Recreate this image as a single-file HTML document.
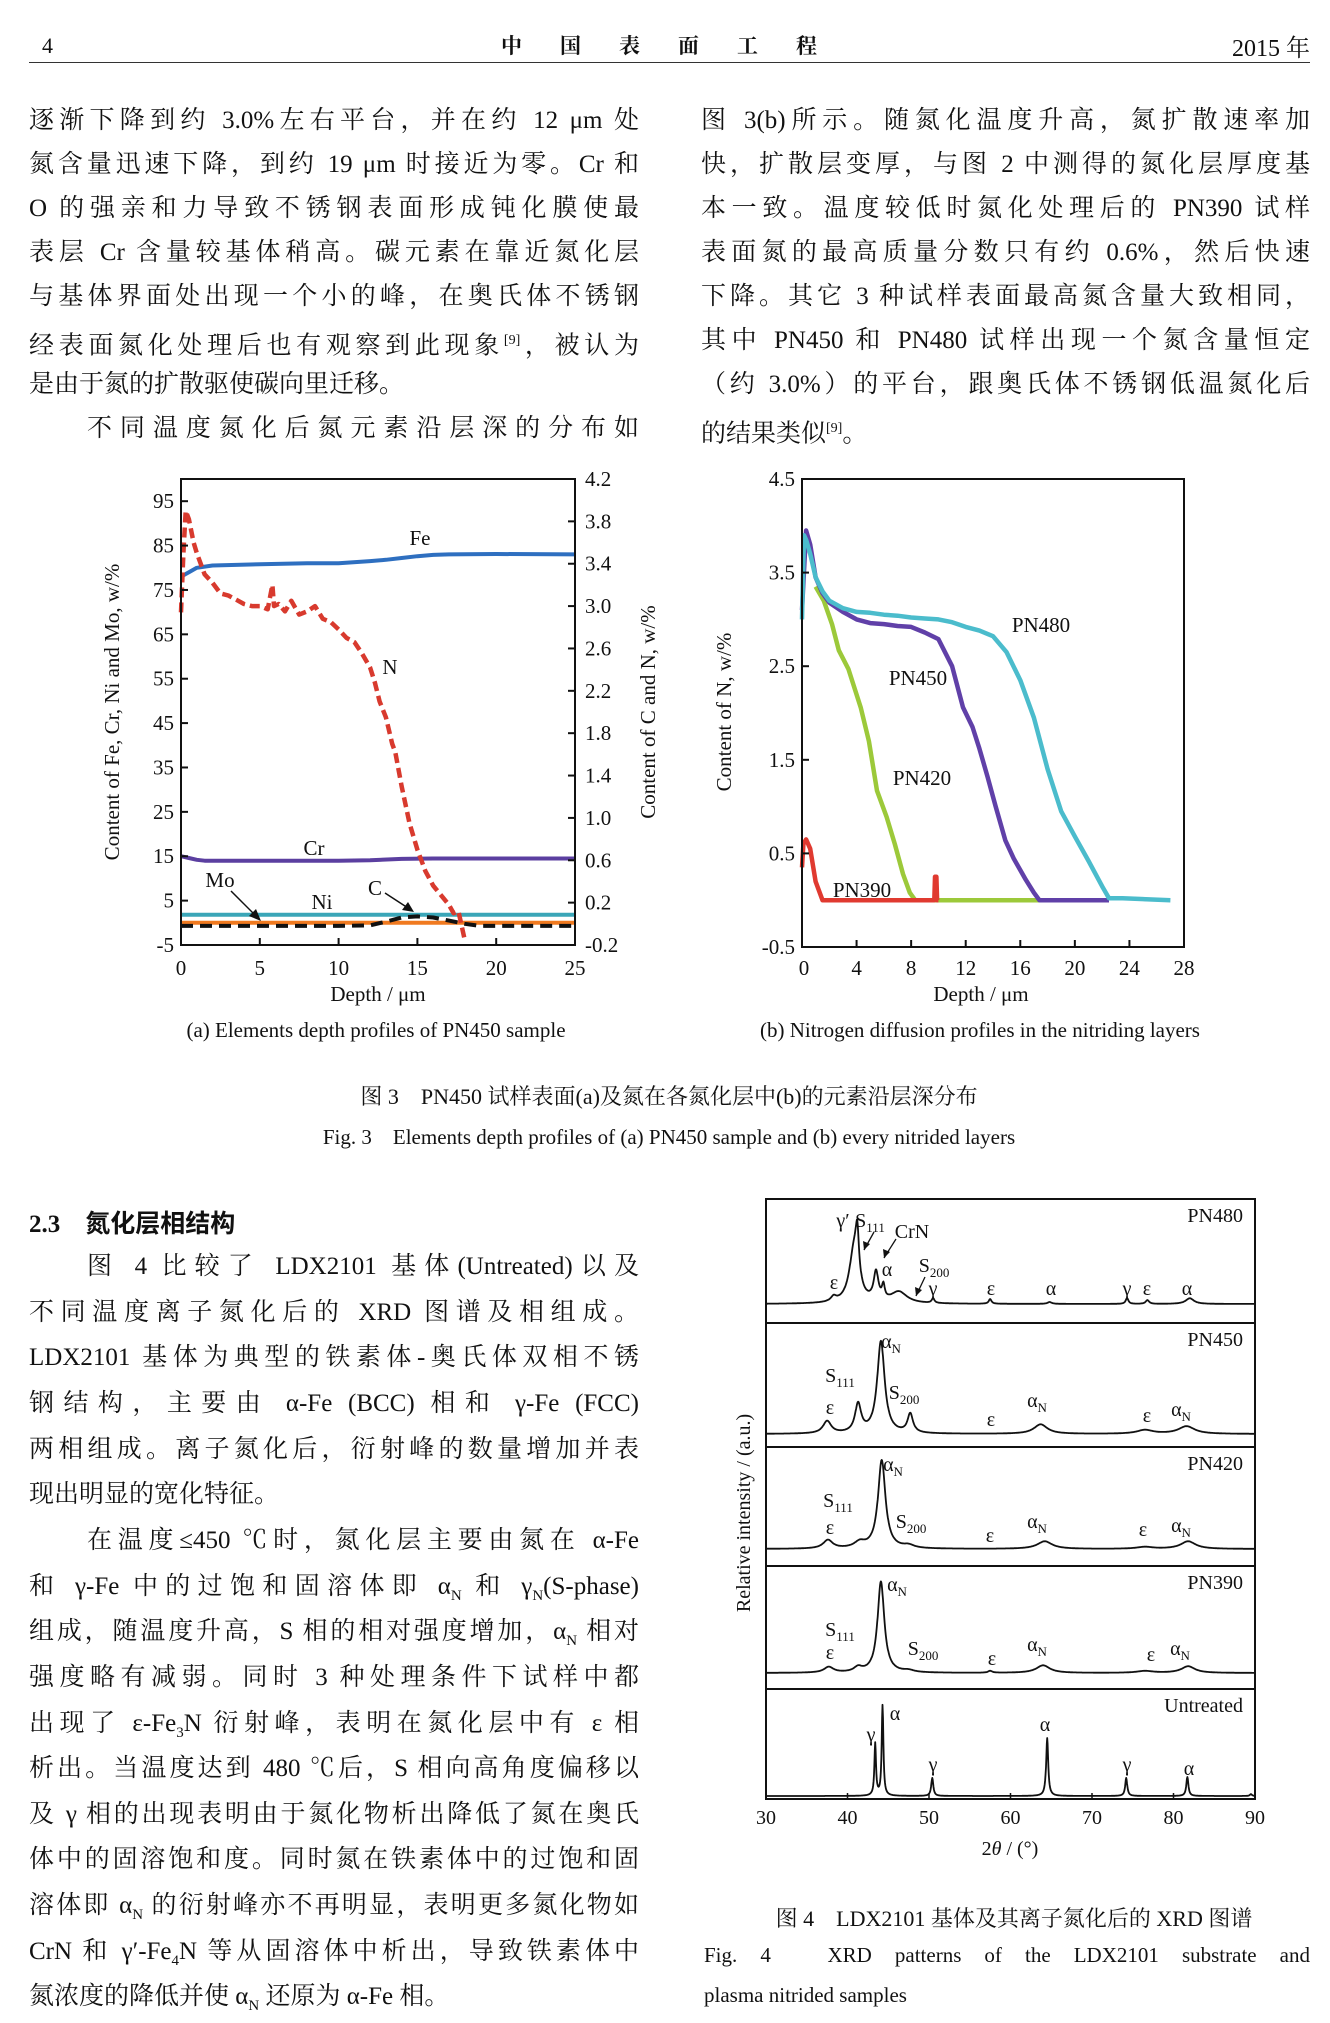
<!DOCTYPE html>
<html><head><meta charset="utf-8">
<style>
body{margin:0;background:#fff;}
#page{position:relative;width:1330px;height:2023px;overflow:hidden;background:#fff;font-family:"Liberation Serif","Noto Serif CJK SC",serif;color:#111;}
.ln{position:absolute;font-size:25px;line-height:44px;height:44px;white-space:nowrap;text-align:justify;text-align-last:justify;}
.ln.l{left:29px;width:610px;}
.ln.r{left:701px;width:609px;}
.ln.e{text-align-last:left;}
.cap{position:absolute;font-size:22px;white-space:nowrap;transform:translateX(-50%);}
sup{font-size:14px;}
sub{font-size:15px;}
svg text{font-family:"Liberation Serif","Noto Serif CJK SC",serif;}
</style></head>
<body>
<div id="page">
<div style="position:absolute;left:42px;top:33px;font-size:22px;">4</div>
<div style="position:absolute;left:678px;top:30px;transform:translateX(-50%);font-size:21px;font-weight:bold;letter-spacing:38px;font-family:'Noto Serif CJK SC',serif;">中国表面工程</div>
<div style="position:absolute;right:20px;top:28px;font-size:24px;">2015 年</div>
<div style="position:absolute;left:29px;top:62px;width:1281px;height:1px;background:#333;"></div>

<div class="ln l" style="top:99px">逐渐下降到约 3.0%左右平台，并在约 12 μm 处</div>
<div class="ln l" style="top:143px">氮含量迅速下降，到约 19 μm 时接近为零。Cr 和</div>
<div class="ln l" style="top:187px">O 的强亲和力导致不锈钢表面形成钝化膜使最</div>
<div class="ln l" style="top:231px">表层 Cr 含量较基体稍高。碳元素在靠近氮化层</div>
<div class="ln l" style="top:275px">与基体界面处出现一个小的峰，在奥氏体不锈钢</div>
<div class="ln l" style="top:319px">经表面氮化处理后也有观察到此现象<sup>[9]</sup>，被认为</div>
<div class="ln l e" style="top:363px">是由于氮的扩散驱使碳向里迁移。</div>
<div class="ln l" style="top:407px;left:87px;width:552px">不同温度氮化后氮元素沿层深的分布如</div>

<div class="ln r" style="top:99px">图 3(b)所示。随氮化温度升高，氮扩散速率加</div>
<div class="ln r" style="top:143px">快，扩散层变厚，与图 2 中测得的氮化层厚度基</div>
<div class="ln r" style="top:187px">本一致。温度较低时氮化处理后的 PN390 试样</div>
<div class="ln r" style="top:231px">表面氮的最高质量分数只有约 0.6%，然后快速</div>
<div class="ln r" style="top:275px">下降。其它 3 种试样表面最高氮含量大致相同，</div>
<div class="ln r" style="top:319px">其中 PN450 和 PN480 试样出现一个氮含量恒定</div>
<div class="ln r" style="top:363px">（约 3.0%）的平台，跟奥氏体不锈钢低温氮化后</div>
<div class="ln r e" style="top:407px">的结果类似<sup>[9]</sup>。</div>

<div class="cap" style="left:669px;top:1080px;font-size:22px;">图 3　PN450 试样表面(a)及氮在各氮化层中(b)的元素沿层深分布</div>
<div class="cap" style="left:669px;top:1121px;font-size:21px;">Fig. 3　Elements depth profiles of (a) PN450 sample and (b) every nitrided layers</div>

<div style="position:absolute;left:29px;top:1204px;font-size:25px;font-weight:bold;font-family:'Liberation Serif','Noto Sans CJK SC',sans-serif;">2.3　氮化层相结构</div>

<div class="ln l" style="top:1245px;left:87px;width:552px">图 4 比较了 LDX2101 基体(Untreated)以及</div>
<div class="ln l" style="top:1291px">不同温度离子氮化后的 XRD 图谱及相组成。</div>
<div class="ln l" style="top:1336px">LDX2101 基体为典型的铁素体-奥氏体双相不锈</div>
<div class="ln l" style="top:1382px">钢结构，主要由 α-Fe (BCC) 相和 γ-Fe (FCC)</div>
<div class="ln l" style="top:1428px">两相组成。离子氮化后，衍射峰的数量增加并表</div>
<div class="ln l e" style="top:1473px">现出明显的宽化特征。</div>
<div class="ln l" style="top:1519px;left:87px;width:552px">在温度≤450 ℃时，氮化层主要由氮在 α-Fe</div>
<div class="ln l" style="top:1565px">和 γ-Fe 中的过饱和固溶体即 α<sub>N</sub> 和 γ<sub>N</sub>(S-phase)</div>
<div class="ln l" style="top:1610px">组成，随温度升高，S 相的相对强度增加，α<sub>N</sub> 相对</div>
<div class="ln l" style="top:1656px">强度略有减弱。同时 3 种处理条件下试样中都</div>
<div class="ln l" style="top:1702px">出现了 ε-Fe<sub>3</sub>N 衍射峰，表明在氮化层中有 ε 相</div>
<div class="ln l" style="top:1747px">析出。当温度达到 480 ℃后，S 相向高角度偏移以</div>
<div class="ln l" style="top:1793px">及 γ 相的出现表明由于氮化物析出降低了氮在奥氏</div>
<div class="ln l" style="top:1838px">体中的固溶饱和度。同时氮在铁素体中的过饱和固</div>
<div class="ln l" style="top:1884px">溶体即 α<sub>N</sub> 的衍射峰亦不再明显，表明更多氮化物如</div>
<div class="ln l" style="top:1930px">CrN 和 γ′-Fe<sub>4</sub>N 等从固溶体中析出，导致铁素体中</div>
<div class="ln l e" style="top:1975px">氮浓度的降低并使 α<sub>N</sub> 还原为 α-Fe 相。</div>

<div class="cap" style="left:1014px;top:1902px;font-size:22px;">图 4　LDX2101 基体及其离子氮化后的 XRD 图谱</div>
<div class="ln" style="left:704px;width:606px;top:1933px;font-size:21px;">Fig. 4　XRD patterns of the LDX2101 substrate and</div>
<div style="position:absolute;left:704px;top:1983px;font-size:21px;">plasma nitrided samples</div>

<svg id="charts" width="1330" height="2023" style="position:absolute;left:0;top:0;" xmlns="http://www.w3.org/2000/svg"></svg>
</div>
<script>
// ===== Chart (a) data =====
const aFeX=[0,0.5,1,2,5,8,10,12,13,14,15,16,17,20,25];
const aFeY=[78,79,80,80.5,80.8,81,81,81.5,81.8,82.2,82.6,82.9,83,83.1,83];
const aCrX=[0,0.5,1,1.5,5,10,12,14,16,25];
const aCrY=[15,14.6,14.2,14,14,14,14.1,14.4,14.5,14.5];
const aNiX=[0,25];const aNiY=[1.8,1.8];
const aMoX=[0,25];const aMoY=[0,0];
const aCX=[0,5,10,12,13,14,15,16,17,18,19,20,25];
const aCY=[-0.02,-0.02,-0.02,-0.015,0.02,0.06,0.07,0.06,0.03,0,-0.02,-0.02,-0.02];
const aNX=[0,0.15,0.3,0.5,0.8,1,1.5,2,2.5,3,3.5,4,4.5,5,5.5,5.8,5.9,6.2,6.6,7,7.5,8,8.5,9,9.5,10,10.5,11,11.5,12,12.3,12.6,13,13.4,13.6,14,14.5,15,15.5,16,16.5,17,17.3,17.6,18];
const aNY=[2.94,3.5,3.9,3.82,3.6,3.5,3.3,3.22,3.12,3.1,3.06,3.02,3.0,3.0,2.97,3.2,3.0,3.02,2.95,3.05,2.92,2.95,3.0,2.88,2.85,2.78,2.7,2.66,2.55,2.42,2.28,2.1,1.95,1.7,1.62,1.3,0.95,0.7,0.5,0.36,0.27,0.18,0.1,0.12,-0.15];
const aLeftTicks=[95,85,75,65,55,45,35,25,15,5,-5];
const aRightTicks=[4.2,3.8,3.4,3.0,2.6,2.2,1.8,1.4,1.0,0.6,0.2,-0.2];
const aXTicks=[0,5,10,15,20,25];
// ===== Chart (b) data =====
const b480X=[0,0.15,0.3,0.6,1,1.5,2,3,4,5,6,7,8,9,10,11,12,13,14,15,16,17,18,19,20,21,22,22.5,23.5,27];
const b480Y=[3.0,3.9,3.85,3.7,3.45,3.3,3.2,3.12,3.08,3.07,3.05,3.04,3.02,3.01,3.0,2.97,2.92,2.88,2.82,2.65,2.35,1.95,1.4,0.95,0.68,0.42,0.15,0.02,0.02,0];
const b450X=[0,0.3,0.6,1,1.5,2,3,4,5,6,7,8,9,10,11,11.8,12.5,13,13.6,14.2,14.9,15.5,16.4,17,17.4,22.5];
const b450Y=[3.1,3.95,3.8,3.45,3.28,3.18,3.08,3.0,2.96,2.95,2.93,2.92,2.86,2.79,2.5,2.06,1.85,1.62,1.32,1.0,0.64,0.45,0.22,0.08,0.0,0];
const b420X=[1,1.6,2.2,2.7,3.4,4.3,4.9,5.5,6.2,6.8,7.4,7.9,8.3,17.4];
const b420Y=[3.35,3.2,2.95,2.67,2.47,2.06,1.7,1.17,0.89,0.6,0.28,0.08,0.0,0];
const b390X=[0,0.1,0.3,0.6,1,1.5,9.7,9.75,9.85,9.9,10];
const b390Y=[0.35,0.6,0.65,0.55,0.2,0,0,0.25,0.25,0,0];
const bYTicks=[4.5,3.5,2.5,1.5,0.5,-0.5];
const bXTicks=[0,4,8,12,16,20,24,28];
// ===== XRD data (peak centers, heights in a.u., widths in deg) =====
const xrdNames=["PN480","PN450","PN420","PN390","Untreated"];
const p480C=[38.3,40.8,41.2,43.5,44.4,46.3,50.5,57.5,64.8,74.3,76.8,82];
const p480H=[5,55,45,30,14,12,5,5,2,6,4,6];
const p480W=[0.4,0.7,0.25,0.35,0.2,1.2,0.2,0.2,0.3,0.2,0.25,0.6];
const p450C=[37.5,41.3,44.1,47.7,63.7,76.5,81.6];
const p450H=[13,30,97,20,10,4,8];
const p450W=[0.6,0.45,0.55,0.4,1.0,1.2,1.2];
const p420C=[37.6,41.5,44.2,47.5,64.2,76.5,81.8];
const p420H=[9,6,93,3,8,2,8];
const p420W=[0.7,0.8,0.55,0.8,1.1,1.2,1.1];
const p390C=[37.7,41.3,44.1,47.5,57.5,64,76.5,81.8];
const p390H=[6,5,96,2,2,8,2,7];
const p390W=[0.7,0.6,0.5,0.8,0.3,1.0,1.2,1.0];
const pUC=[43.4,44.3,50.4,64.5,74.2,81.7,89.5];
const pUH=[55,95,19,61,19,20,2];
const pUW=[0.12,0.12,0.15,0.15,0.15,0.15,0.15];
const xrdTicks=[30,40,50,60,70,80,90];

const NS="http://www.w3.org/2000/svg";
const svg=document.getElementById('charts');
function mk(tag,attrs,parent){const e=document.createElementNS(NS,tag);for(const k in attrs)e.setAttribute(k,attrs[k]);(parent||svg).appendChild(e);return e;}
function txt(s,x,y,size,anchor,parent){const t=mk('text',{x:x,y:y,'font-size':size,'text-anchor':anchor||'middle','dominant-baseline':'central',fill:'#111'},parent);t.textContent=s;return t;}
function path(xs,ys,fx,fy){return xs.map((v,i)=>(i?'L':'M')+fx(v).toFixed(1)+','+fy(ys[i]).toFixed(1)).join('');}

// ---------- Chart A ----------
const gA=mk('g',{});


const xA=v=>181+v/25*394, yL=v=>945-(v+5)/105*466, yR=v=>945-(v+0.2)/4.4*466;
function lineA(xs,ys,fy,color,w,dash,name){const p=mk('path',{d:path(xs,ys,xA,fy),fill:'none',stroke:color,'stroke-width':w,'stroke-dasharray':dash||'none','stroke-linejoin':'round'},gA);

}
lineA(aFeX,aFeY,yL,'#2e6fc0',4,null,'series-fe');
lineA(aCrX,aCrY,yL,'#5b3fa0',4,null,'series-cr');
lineA(aNiX,aNiY,yL,'#3aa6b8',4,null,'series-ni');
lineA(aMoX,aMoY,yL,'#f07a20',4,null,'series-mo');
lineA(aCX,aCY,yR,'#111',4,'12 7','series-c');
lineA(aNX,aNY,yR,'#d83a2e',4.5,'10 5','series-n');
const frA=mk('rect',{x:181,y:479,width:394,height:466,fill:'none',stroke:'#111','stroke-width':2},gA);


aLeftTicks.forEach(v=>{mk('line',{x1:181,x2:188,y1:yL(v),y2:yL(v),stroke:'#111','stroke-width':2},gA);const t=txt(String(v),174,yL(v),21,'end',gA);

});
aRightTicks.forEach(v=>{mk('line',{x1:568,x2:575,y1:yR(v),y2:yR(v),stroke:'#111','stroke-width':2},gA);const t=txt(v.toFixed(1),585,yR(v),21,'start',gA);

});
aXTicks.forEach(v=>{mk('line',{x1:xA(v),x2:xA(v),y1:945,y2:938,stroke:'#111','stroke-width':2},gA);const t=txt(String(v),xA(v),968,21,'middle',gA);

});
[['Fe',420,538],['N',390,667],['Cr',314,848],['Mo',220,880],['Ni',322,902],['C',375,888]].forEach(a=>{const t=txt(a[0],a[1],a[2],21,'middle',gA);

});
mk('line',{x1:231,y1:891,x2:256,y2:916,stroke:'#111','stroke-width':1.5},gA);
mk('polygon',{points:'261,921 249,916 256,909',fill:'#111'},gA);
mk('line',{x1:385,y1:893,x2:408,y2:908,stroke:'#111','stroke-width':1.5},gA);
mk('polygon',{points:'414,912 402,910 408,902',fill:'#111'},gA);
let t1=txt('Content of Fe, Cr, Ni and Mo, w/%',112,712,21,'middle',gA);t1.setAttribute('transform','rotate(-90 112 712)');


let t2=txt('Content of C and N, w/%',648,712,21,'middle',gA);t2.setAttribute('transform','rotate(-90 648 712)');


let t3=txt('Depth / μm',378,994,21,'middle',gA);


let t4=txt('(a) Elements depth profiles of PN450 sample',376,1030,21,'middle',gA);



// ---------- Chart B ----------
const gB=mk('g',{});


const xB=v=>802+v/28*382, yB=v=>947-(v+0.5)/5*468;
function lineB(xs,ys,color,name){const p=mk('path',{d:path(xs,ys,xB,yB),fill:'none',stroke:color,'stroke-width':4.5,'stroke-linejoin':'round'},gB);

}
lineB(b420X,b420Y,'#9cc93a','series-pn420');
lineB(b450X,b450Y,'#6040a8','series-pn450');
lineB(b480X,b480Y,'#4bbccc','series-pn480');
lineB(b390X,b390Y,'#e03a30','series-pn390');
const frB=mk('rect',{x:802,y:479,width:382,height:468,fill:'none',stroke:'#111','stroke-width':2},gB);


bYTicks.forEach(v=>{mk('line',{x1:802,x2:809,y1:yB(v),y2:yB(v),stroke:'#111','stroke-width':2},gB);const t=txt(v.toFixed(1),795,yB(v),21,'end',gB);

});
bXTicks.forEach(v=>{mk('line',{x1:xB(v),x2:xB(v),y1:947,y2:940,stroke:'#111','stroke-width':2},gB);const t=txt(String(v),xB(v)+(v===0?2:0),968,21,'middle',gB);

});
[['PN480',1041,625],['PN450',918,678],['PN420',922,778],['PN390',862,890]].forEach(a=>{const t=txt(a[0],a[1],a[2],21,'middle',gB);

});
let t5=txt('Content of N, w/%',724,712,21,'middle',gB);t5.setAttribute('transform','rotate(-90 724 712)');


let t6=txt('Depth / μm',981,994,21,'middle',gB);


let t7=txt('(b) Nitrogen diffusion profiles in the nitriding layers',980,1030,21,'middle',gB);



// ---------- XRD ----------
const gX=mk('g',{});


const xX=v=>766+(v-30)/60*489;
const panelTop=[1199,1323,1447,1566,1689], panelBase=[1304,1434,1549,1673,1796];
const peaks=[[p480C,p480H,p480W],[p450C,p450H,p450W],[p420C,p420H,p420W],[p390C,p390H,p390W],[pUC,pUH,pUW]];
const angles=[];for(let a=30;a<=90.001;a+=0.05)angles.push(+a.toFixed(2));
peaks.forEach((pk,i)=>{
  const ys=angles.map(a=>{let s=0;for(let j=0;j<pk[0].length;j++){const d=a-pk[0][j],w=pk[2][j];s+=pk[1][j]*w*w/(d*d+w*w);}return s;});
  const fy=v=>panelBase[i]-v*0.95;
  const p=mk('path',{d:path(angles,ys,xX,fy),fill:'none',stroke:'#111','stroke-width':1.8,'stroke-linejoin':'round'},gX);
  
  
  if(i>0)mk('line',{x1:766,x2:1255,y1:panelTop[i],y2:panelTop[i],stroke:'#111','stroke-width':2},gX);
  const t=txt(xrdNames[i],1243,panelTop[i]+17,20,'end',gX);
  
  
});
const frX=mk('rect',{x:766,y:1199,width:489,height:600,fill:'none',stroke:'#111','stroke-width':2},gX);


xrdTicks.forEach(v=>{mk('line',{x1:xX(v),x2:xX(v),y1:1799,y2:1793,stroke:'#111','stroke-width':1.5},gX);const t=txt(String(v),xX(v),1818,20,'middle',gX);

});
function lab(main,sub,x,y){const t=mk('text',{x:x,y:y,'font-size':20,'text-anchor':'middle','dominant-baseline':'central',fill:'#111'},gX);t.textContent=main;if(sub){const s=mk('tspan',{'font-size':13,dy:6},t);s.textContent=sub;}

}
[['γ′','',843,1221],['S','111',870,1221],['CrN','',912,1232],['α','',887,1270],['S','200',934,1266],['γ','',933,1289],['ε','',834,1283],['ε','',991,1289],['α','',1051,1289],['γ','',1127,1289],['ε','',1147,1289],['α','',1187,1289],
 ['S','111',840,1376],['ε','',830,1408],['α','N',891,1342],['S','200',904,1393],['ε','',991,1420],['α','N',1037,1401],['ε','',1147,1416],['α','N',1181,1410],
 ['S','111',838,1501],['ε','',830,1528],['α','N',893,1465],['S','200',911,1522],['ε','',990,1536],['α','N',1037,1522],['ε','',1143,1530],['α','N',1181,1526],
 ['S','111',840,1630],['ε','',830,1653],['α','N',897,1585],['S','200',923,1649],['ε','',992,1659],['α','N',1037,1645],['ε','',1151,1655],['α','N',1180,1649],
 ['γ','',871,1735],['α','',895,1714],['γ','',933,1765],['α','',1045,1725],['γ','',1127,1765],['α','',1189,1769]
].forEach(a=>lab(a[0],a[1],a[2],a[3]));
[[874,1232,864,1250],[896,1239,884,1258],[925,1277,916,1296]].forEach(a=>{mk('line',{x1:a[0],y1:a[1],x2:a[2],y2:a[3],stroke:'#111','stroke-width':1.3},gX);mk('polygon',{points:`${a[2]},${a[3]} ${a[2]-1},${a[3]-9} ${a[2]+6},${a[3]-6}`,fill:'#111'},gX);});
let t8=txt('Relative intensity / (a.u.)',744,1513,20,'middle',gX);t8.setAttribute('transform','rotate(-90 744 1513)');


let t9=mk('text',{x:1010,y:1849,'font-size':20,'text-anchor':'middle','dominant-baseline':'central',fill:'#111'},gX);t9.innerHTML='2<tspan font-style="italic">θ</tspan> / (°)';


</script>
</body></html>
